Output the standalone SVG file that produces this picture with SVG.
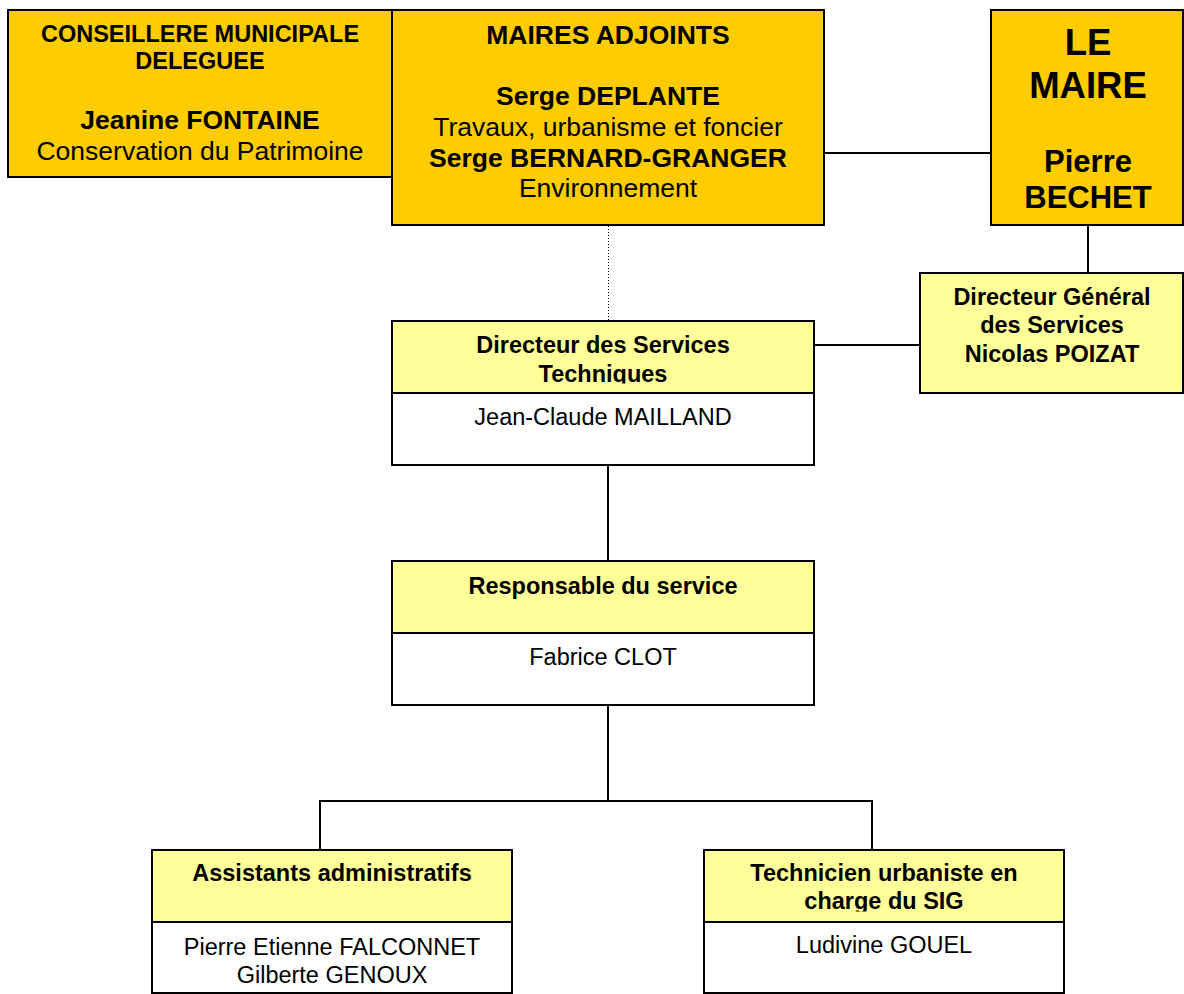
<svg xmlns="http://www.w3.org/2000/svg" width="1184" height="994" viewBox="0 0 1184 994">
<style>
.bx{stroke:#000;stroke-width:2}
.dk{fill:#FFCC00}
.lt{fill:#FFFF99}
.wh{fill:#FFFFFF}
.ln{stroke:#000;stroke-width:2;fill:none}
.dot{stroke:#000;stroke-width:1;stroke-dasharray:1,2;fill:none}
text{font-family:"Liberation Sans",Arial,sans-serif;fill:#000;text-anchor:middle}
.b{font-weight:bold}
</style>
<defs>
<clipPath id="clipDst"><rect x="392" y="321" width="422" height="62.5"/></clipPath>
<clipPath id="clipTech"><rect x="704" y="850" width="360" height="61.5"/></clipPath>
</defs>
<rect width="1184" height="994" fill="#fff"/>
<g id="connectors">
<line class="ln" x1="824" y1="153" x2="991" y2="153"/>
<line class="ln" x1="1088" y1="225" x2="1088" y2="273"/>
<line class="ln" x1="814" y1="345" x2="920" y2="345"/>
<line class="dot" x1="608.5" y1="226" x2="608.5" y2="321"/>
<line class="ln" x1="608" y1="465" x2="608" y2="561"/>
<polyline class="ln" points="608,705 608,801"/>
<polyline class="ln" points="320,850 320,801 872,801 872,850"/>
</g>
<g id="conseillere">
<rect class="bx dk" x="8" y="10" width="384" height="167"/>
<text class="b" x="200" y="42" font-size="23.5">CONSEILLERE MUNICIPALE</text>
<text class="b" x="200" y="69" font-size="23.5">DELEGUEE</text>
<text class="b" x="200" y="129" font-size="26.5">Jeanine FONTAINE</text>
<text x="200" y="160" font-size="26.5">Conservation du Patrimoine</text>
</g>
<g id="maires-adjoints">
<rect class="bx dk" x="392" y="10" width="432" height="215"/>
<text class="b" x="608" y="44" font-size="26.5">MAIRES ADJOINTS</text>
<text class="b" x="608" y="105" font-size="26.5">Serge DEPLANTE</text>
<text x="608" y="136" font-size="26.5">Travaux, urbanisme et foncier</text>
<text class="b" x="608" y="167" font-size="26.5">Serge BERNARD-GRANGER</text>
<text x="608" y="197" font-size="26.5">Environnement</text>
</g>
<g id="maire">
<rect class="bx dk" x="991" y="10" width="192" height="215"/>
<text class="b" x="1088" y="55" font-size="36.5">LE</text>
<text class="b" x="1088" y="98" font-size="36.5">MAIRE</text>
<text class="b" x="1088" y="172" font-size="31">Pierre</text>
<text class="b" x="1088" y="208" font-size="31">BECHET</text>
</g>
<g id="dgs">
<rect class="bx lt" x="920" y="273" width="263" height="120"/>
<text class="b" x="1052" y="305" font-size="23.5">Directeur Général</text>
<text class="b" x="1052" y="333" font-size="23.5">des Services</text>
<text class="b" x="1052" y="362" font-size="23.5">Nicolas POIZAT</text>
</g>
<g id="dst">
<rect class="bx lt" x="392" y="321" width="422" height="72"/>
<g clip-path="url(#clipDst)">
<text class="b" x="603" y="353" font-size="23.5">Directeur des Services</text>
<text class="b" x="603" y="382" font-size="23.5">Techniques</text>
</g>
<rect class="bx wh" x="392" y="393" width="422" height="72"/>
<text x="603" y="425" font-size="23.5">Jean-Claude MAILLAND</text>
</g>
<g id="responsable">
<rect class="bx lt" x="392" y="561" width="422" height="72"/>
<text class="b" x="603" y="594" font-size="23.5">Responsable du service</text>
<rect class="bx wh" x="392" y="633" width="422" height="72"/>
<text x="603" y="665" font-size="23.5">Fabrice CLOT</text>
</g>
<g id="assistants">
<rect class="bx lt" x="152" y="850" width="360" height="72"/>
<text class="b" x="332" y="881" font-size="23.5">Assistants administratifs</text>
<rect class="bx wh" x="152" y="922" width="360" height="71"/>
<text x="332" y="955" font-size="23.5">Pierre Etienne FALCONNET</text>
<text x="332" y="983" font-size="23.5">Gilberte GENOUX</text>
</g>
<g id="technicien">
<rect class="bx lt" x="704" y="850" width="360" height="72"/>
<g clip-path="url(#clipTech)">
<text class="b" x="884" y="881" font-size="23.5">Technicien urbaniste en</text>
<text class="b" x="884" y="909" font-size="23.5">charge du SIG</text>
</g>
<rect class="bx wh" x="704" y="922" width="360" height="71"/>
<text x="884" y="953" font-size="23.5">Ludivine GOUEL</text>
</g>
</svg>
